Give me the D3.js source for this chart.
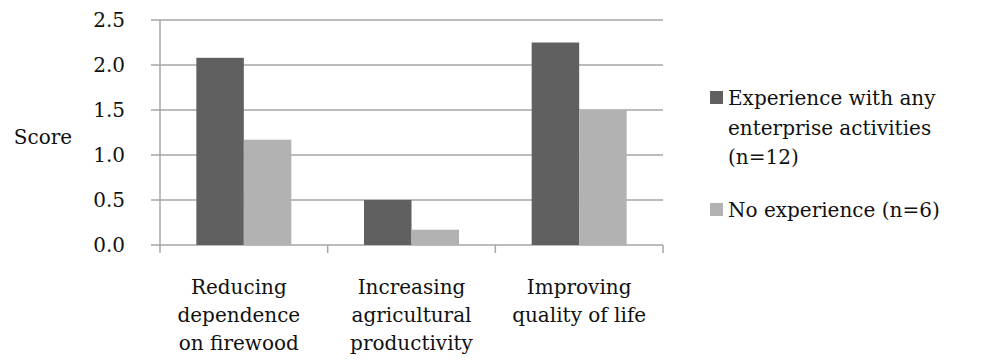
<!DOCTYPE html>
<html>
<head>
<meta charset="utf-8">
<script src="https://cdn.jsdelivr.net/npm/d3@7"></script>
<style>
  html, body { margin: 0; padding: 0; background: #fff; }
  svg { display: block; }
</style>
</head>
<body>
<svg id="chart" width="981" height="363"></svg>
<script>
// Mean scores by benefit, split by enterprise experience
const categories = [
  ["Reducing", "dependence", "on firewood"],
  ["Increasing", "agricultural", "productivity"],
  ["Improving", "quality of life"]
];
const seriesNames = [
  ["Experience with any", "enterprise activities", "(n=12)"],
  ["No experience (n=6)"]
];
const experienced = [2.08, 0.5, 2.25];
const noExperience = [1.17, 0.17, 1.5];
const yTicks = [0, 0.5, 1.0, 1.5, 2.0, 2.5];
const colors = ["#606060", "#b2b2b2"];

const svg = d3.select("#chart");

// Shared text styling applied directly to each text element
function styleText(sel) {
  return sel
    .style("font-family", '"DejaVu Serif"')
    .style("font-size", "20px")
    .style("fill", "#111");
}

const plotLeft = 160, plotRight = 663, plotTop = 20, plotBottom = 245;

const catIdx = d3.range(categories.length);
const x = d3.scaleBand().domain(catIdx).range([plotLeft, plotRight]).paddingInner(0).paddingOuter(0);
const xSub = d3.scaleBand().domain([0, 1]).range([0, x.bandwidth()]).paddingInner(0).paddingOuter(0.765);
const y = d3.scaleLinear().domain([0, 2.5]).range([plotBottom, plotTop]);

// Horizontal gridlines with short ticks left of the axis
svg.append("g")
  .selectAll("line")
  .data(yTicks)
  .join("line")
  .attr("x1", plotLeft - 9).attr("x2", plotRight)
  .attr("y1", d => y(d)).attr("y2", d => y(d))
  .attr("stroke", "#a6a6a6").attr("stroke-width", 1.5);

// Y axis line
svg.append("line")
  .attr("x1", plotLeft).attr("x2", plotLeft).attr("y1", plotTop).attr("y2", plotBottom)
  .attr("stroke", "#a6a6a6").attr("stroke-width", 1.5);

// Category dividers below the baseline
const bounds = catIdx.map(i => x(i)).concat([plotRight]);
svg.append("g")
  .selectAll("line")
  .data(bounds)
  .join("line")
  .attr("x1", d => d).attr("x2", d => d)
  .attr("y1", plotBottom).attr("y2", plotBottom + 8)
  .attr("stroke", "#a6a6a6").attr("stroke-width", 1.5);

// Y tick labels
svg.append("g")
  .selectAll("text")
  .data(yTicks)
  .join("text")
  .call(styleText)
  .attr("x", 125)
  .attr("y", d => y(d))
  .attr("dy", "0.36em")
  .attr("text-anchor", "end")
  .text(d => d.toFixed(1));

// Y axis title
svg.append("text")
  .call(styleText)
  .attr("x", 43).attr("y", 137).attr("dy", "0.36em")
  .attr("text-anchor", "middle")
  .text("Score");

// Bars
const seriesData = [experienced, noExperience];
seriesData.forEach((vals, s) => {
  svg.append("g")
    .selectAll("rect")
    .data(vals)
    .join("rect")
    .attr("x", (d, i) => x(i) + xSub(s))
    .attr("width", xSub.bandwidth())
    .attr("y", d => y(d))
    .attr("height", d => y(0) - y(d))
    .attr("fill", colors[s]);
});

// Category labels
const catG = svg.append("g");
categories.forEach((lines, i) => {
  const cx = x(i) + x.bandwidth() / 2 - (i === 0 ? 5 : 0);
  const t = catG.append("text").call(styleText).attr("text-anchor", "middle");
  lines.forEach((ln, j) => {
    t.append("tspan")
      .attr("x", cx)
      .attr("y", 287 + j * 28)
      .attr("dy", "0.36em")
      .text(ln);
  });
});

// Legend
const legendY = [98, 210];
seriesNames.forEach((lines, s) => {
  svg.append("rect")
    .attr("x", 710).attr("y", legendY[s] - 7)
    .attr("width", 13).attr("height", 13)
    .attr("fill", colors[s]);
  const t = svg.append("text").call(styleText);
  lines.forEach((ln, j) => {
    t.append("tspan")
      .attr("x", 728)
      .attr("y", legendY[s] + j * 29.5)
      .attr("dy", "0.36em")
      .text(ln);
  });
});
</script>
</body>
</html>
